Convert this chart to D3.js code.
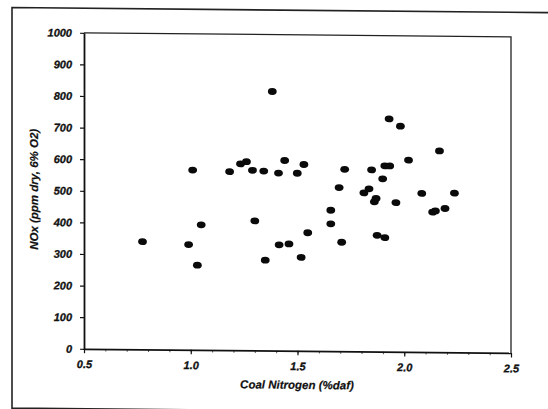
<!DOCTYPE html>
<html>
<head>
<meta charset="utf-8">
<script src="https://cdn.jsdelivr.net/npm/d3@7"></script>
<style>
  body { margin: 0; background: #fff; }
  .tickText { font-family: "Liberation Sans", Arial, sans-serif; font-weight: bold; font-style: italic; font-size: 11px; fill: #111; stroke: #111; stroke-width: 0.3px; }
  .axisText { font-family: "Liberation Sans", Arial, sans-serif; font-weight: bold; font-style: italic; font-size: 11.5px; fill: #111; stroke: #111; stroke-width: 0.2px; }
</style>
</head>
<body>
<div class="chart"></div>
<script>
// NOx vs coal nitrogen scatter

// data
var coalNitrogen = [0.774, 0.990, 1.031, 1.009, 1.049, 1.182, 1.233, 1.261, 1.289, 1.300,
  1.342, 1.349, 1.382, 1.411, 1.414, 1.440, 1.460, 1.499, 1.517, 1.530,
  1.548, 1.656, 1.656, 1.695, 1.707, 1.721, 1.811, 1.835, 1.847, 1.860,
  1.868, 1.873, 1.899, 1.909, 1.909, 1.929, 1.932, 1.961, 1.982, 2.020,
  2.082, 2.133, 2.146, 2.165, 2.191, 2.235];
var noxPpm = [341, 333, 268, 569, 396, 565, 590, 597, 570, 410,
  568, 286, 820, 562, 335, 602, 338, 562, 296, 590,
  374, 446, 403, 518, 345, 576, 502, 515, 575, 474,
  485, 368, 547, 361, 588, 737, 588, 472, 714, 607,
  502, 443, 447, 637, 455, 504];

var xTicks = [0.5, 1.0, 1.5, 2.0, 2.5];
var xMinorTicks = d3.range(5, 26).map(function (d) { return d / 10; });
var yTicks = [0, 100, 200, 300, 400, 500, 600, 700, 800, 900, 1000];

var xTitle = "Coal Nitrogen (%daf)";
var yTitle = "NOx (ppm dry, 6% O2)";

// svg container
var svgWidth = 548;
var svgHeight = 409;

var margin = { top: 32, right: 37, bottom: 61, left: 84 };
var chartWidth = svgWidth - margin.left - margin.right;
var chartHeight = svgHeight - margin.top - margin.bottom;

var svg = d3.select(".chart")
  .append("svg")
  .attr("width", svgWidth)
  .attr("height", svgHeight);

// the scanned page is a little skewed
var page = svg.append("g")
  .attr("transform", "skewY(0.55)");

// outer frame (left, top, bottom)
page.append("path")
  .attr("d", "M548,7.4 L12,7.4 L12,408 L548,408")
  .attr("fill", "none")
  .attr("stroke", "#222")
  .attr("stroke-width", 1.6);

var chartGroup = page.append("g")
  .attr("transform", `translate(${margin.left}, ${margin.top})`);

// scales
var xLinearScale = d3.scaleLinear()
  .domain([0.5, 2.5])
  .range([0, chartWidth]);

var yLinearScale = d3.scaleLinear()
  .domain([0, 1000])
  .range([chartHeight, 0]);

// plot box: top and right
chartGroup.append("path")
  .attr("d", `M0,0 L${chartWidth},0 L${chartWidth},${chartHeight}`)
  .attr("fill", "none")
  .attr("stroke", "#222")
  .attr("stroke-width", 1.3);

// minor x ticks
var bottomMinor = d3.axisBottom(xLinearScale)
  .tickValues(xMinorTicks)
  .tickSize(2.5)
  .tickFormat("");

chartGroup.append("g")
  .attr("transform", `translate(0, ${chartHeight})`)
  .call(bottomMinor)
  .call(g => g.select(".domain").remove())
  .call(g => g.selectAll("line").attr("stroke", "#555").attr("stroke-width", 1));

// axes
var bottomAxis = d3.axisBottom(xLinearScale)
  .tickValues(xTicks)
  .tickSize(4.5)
  .tickSizeOuter(0)
  .tickPadding(7)
  .tickFormat(d3.format(".1f"));

var leftAxis = d3.axisLeft(yLinearScale)
  .tickValues(yTicks)
  .tickSize(4)
  .tickSizeOuter(0)
  .tickPadding(8)
  .tickFormat(d3.format("d"));

var xAxisG = chartGroup.append("g")
  .attr("transform", `translate(0, ${chartHeight})`)
  .call(bottomAxis);

var yAxisG = chartGroup.append("g")
  .call(leftAxis);

[xAxisG, yAxisG].forEach(function (g) {
  g.select(".domain").attr("stroke", "#111").attr("stroke-width", 1.8);
  g.selectAll(".tick line").attr("stroke", "#111").attr("stroke-width", 1.2);
  g.selectAll(".tick text").attr("class", "tickText").attr("fill", null);
});

// points
chartGroup.append("g")
  .selectAll("ellipse")
  .data(coalNitrogen)
  .enter()
  .append("ellipse")
  .attr("cx", function (d) { return xLinearScale(d); })
  .attr("cy", function (d, i) { return yLinearScale(noxPpm[i]); })
  .attr("rx", 4.4)
  .attr("ry", 3.4)
  .attr("fill", "#0a0a0a");

// axis titles
chartGroup.append("text")
  .attr("class", "axisText")
  .attr("text-anchor", "middle")
  .attr("x", chartWidth / 2 - 0.5)
  .attr("y", chartHeight + 38)
  .text(xTitle);

chartGroup.append("text")
  .attr("class", "axisText")
  .attr("text-anchor", "middle")
  .attr("transform", `translate(${38 - margin.left}, ${chartHeight / 2 - 1}) rotate(-90)`)
  .text(yTitle);
</script>
</body>
</html>
